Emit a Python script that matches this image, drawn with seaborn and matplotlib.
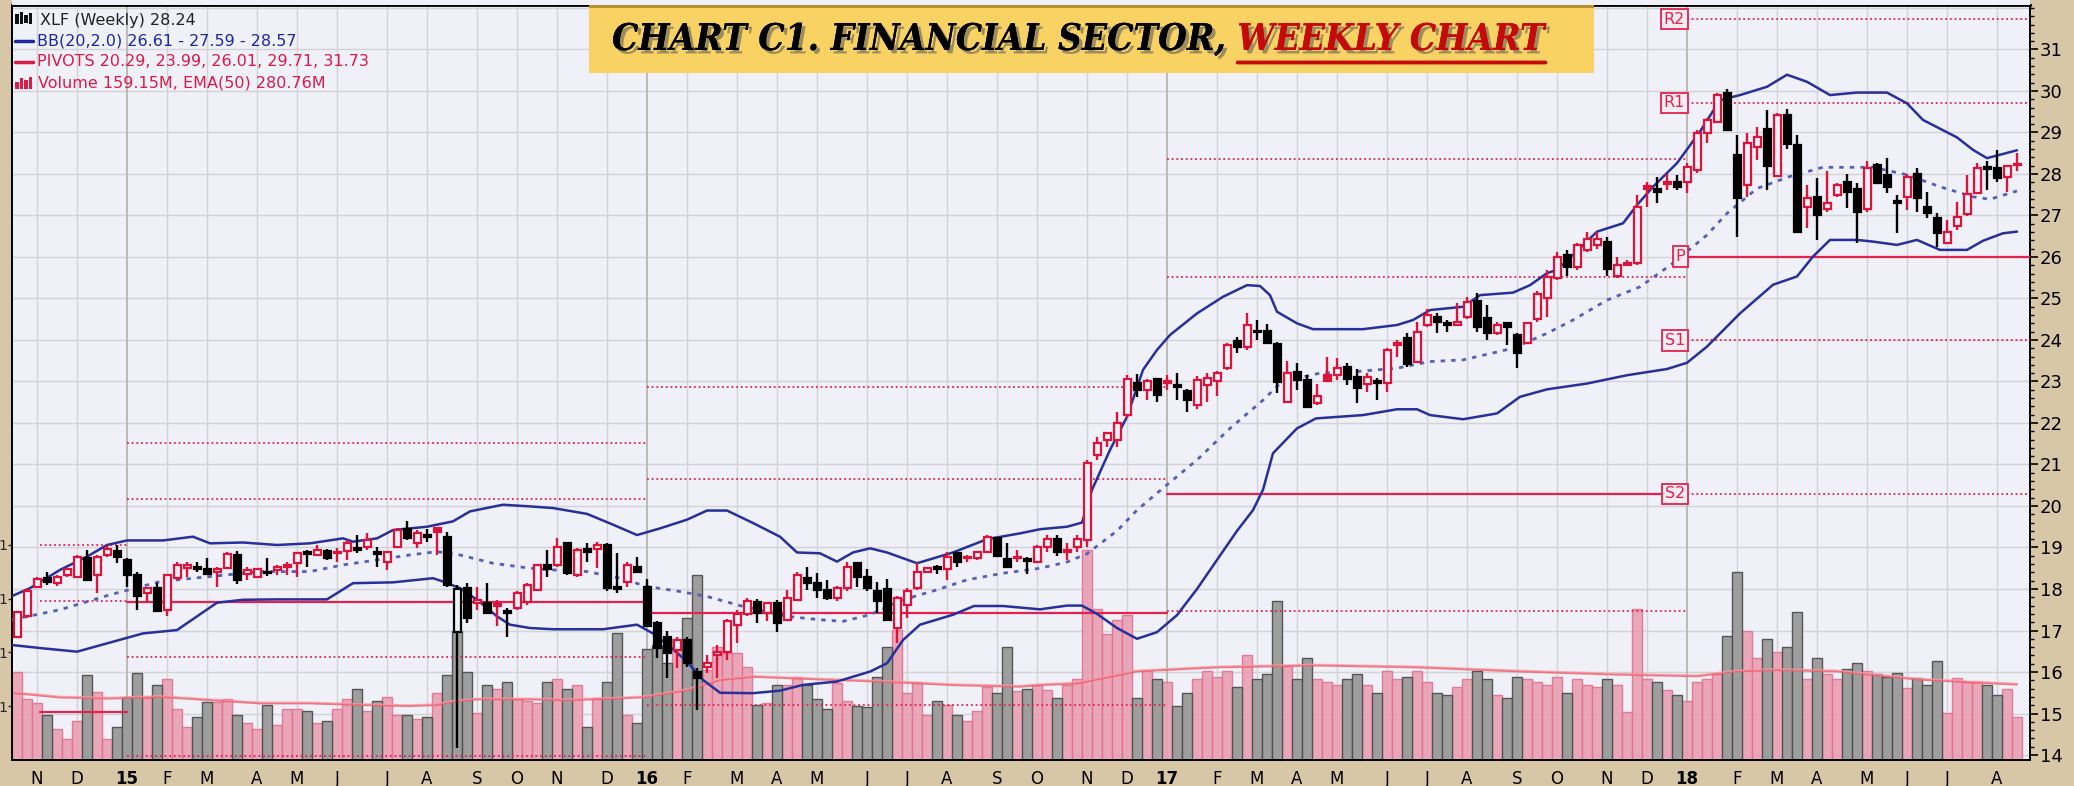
import numpy as np
import matplotlib
matplotlib.use("Agg")
import matplotlib.pyplot as plt
import seaborn as sns
import matplotlib.patheffects as pe
from matplotlib.patches import Rectangle
from matplotlib.lines import Line2D
from matplotlib.transforms import blended_transform_factory
from matplotlib.ticker import MultipleLocator, FixedLocator

# ---------------- weekly XLF candles (week 0 = late Oct 2014) ----------------
opens = [
    16.85, 17.34, 18.06, 18.26, 18.14, 18.34, 18.30, 18.74, 18.34, 18.82,
    18.92, 18.70, 18.34, 17.90, 18.02, 17.50, 18.26, 18.50, 18.52, 18.48,
    18.42, 18.50, 18.82, 18.36, 18.28, 18.42, 18.46, 18.52, 18.62, 18.88,
    18.82, 18.92, 18.86, 18.92, 18.98, 19.02, 18.88, 18.66, 19.02, 19.44,
    19.10, 19.30, 19.46, 19.26, 16.97, 18.02, 17.66, 17.66, 17.60, 17.46,
    17.54, 17.68, 17.98, 18.58, 18.58, 19.10, 18.34, 18.96, 18.96, 19.06,
    18.06, 18.18, 18.52, 18.06, 17.18, 16.85, 16.53, 16.76, 16.01, 16.13,
    16.41, 16.49, 17.13, 17.40, 17.68, 17.43, 17.66, 17.26, 17.74, 18.26,
    18.14, 17.98, 17.78, 18.02, 18.62, 18.30, 17.94, 17.99, 17.05, 17.62,
    18.02, 18.42, 18.52, 18.48, 18.86, 18.74, 18.74, 18.90, 19.22, 18.72,
    18.74, 18.72, 18.64, 19.00, 19.20, 18.90, 19.00, 19.18, 21.23, 21.60,
    21.60, 22.19, 22.97, 22.79, 23.05, 22.96, 22.91, 22.78, 22.43, 22.91,
    23.02, 23.32, 23.98, 23.84, 24.22, 24.22, 23.90, 22.51, 23.24, 23.04,
    22.47, 23.16, 23.16, 23.34, 23.10, 22.95, 23.02, 22.97, 23.88, 24.04,
    23.48, 24.36, 24.56, 24.42, 24.36, 24.56, 24.95, 24.52, 24.16, 24.42,
    24.12, 23.92, 24.50, 25.00, 25.49, 26.05, 25.75, 26.17, 26.29, 26.35,
    25.53, 25.81, 25.85, 27.71, 27.63, 27.76, 27.80, 27.81, 28.10, 28.98,
    29.26, 29.96, 28.46, 27.73, 28.66, 29.08, 27.95, 29.42, 28.70, 27.20,
    27.45, 27.15, 27.49, 27.81, 27.63, 27.15, 28.22, 27.97, 27.35, 27.45,
    28.00, 27.21, 26.93, 26.33, 26.75, 27.04, 27.53, 28.14, 28.14, 27.93,
    28.21,
]
highs = [
    17.47, 18.02, 18.30, 18.40, 18.33, 18.50, 18.82, 18.94, 18.82, 19.06,
    19.06, 18.74, 18.42, 18.06, 18.14, 18.36, 18.64, 18.66, 18.66, 18.74,
    18.54, 18.88, 18.92, 18.54, 18.50, 18.74, 18.58, 18.64, 18.90, 18.94,
    19.06, 18.96, 18.98, 19.17, 19.30, 19.34, 19.02, 18.90, 19.46, 19.65,
    19.42, 19.44, 19.50, 19.38, 18.10, 18.14, 18.06, 18.14, 17.74, 17.54,
    17.94, 18.14, 18.60, 18.94, 19.22, 19.14, 18.98, 19.10, 19.14, 19.10,
    18.86, 18.64, 18.78, 18.24, 17.22, 17.00, 16.85, 16.85, 16.09, 16.41,
    16.65, 17.28, 17.50, 17.78, 17.76, 17.68, 17.74, 17.98, 18.40, 18.54,
    18.38, 18.22, 18.08, 18.64, 18.64, 18.48, 18.18, 18.24, 17.82, 18.02,
    18.62, 18.52, 18.58, 18.90, 18.90, 18.82, 18.90, 19.30, 19.26, 19.12,
    18.94, 18.78, 19.06, 19.30, 19.30, 19.10, 19.30, 21.10, 21.67, 21.79,
    22.27, 23.16, 23.18, 23.05, 23.08, 23.16, 23.21, 22.83, 23.12, 23.20,
    23.26, 23.93, 24.08, 24.66, 24.47, 24.39, 23.94, 23.50, 23.45, 23.16,
    22.95, 23.60, 23.56, 23.45, 23.29, 23.20, 23.08, 23.80, 24.00, 24.16,
    24.44, 24.74, 24.64, 24.48, 24.88, 25.04, 25.14, 24.84, 24.44, 24.44,
    24.16, 24.44, 25.19, 25.69, 26.13, 26.17, 26.33, 26.59, 26.59, 26.49,
    26.01, 25.93, 27.49, 27.81, 27.93, 28.00, 27.97, 28.26, 29.06, 29.34,
    29.94, 30.04, 28.94, 28.98, 29.12, 29.53, 29.48, 29.56, 28.94, 27.73,
    27.90, 28.08, 27.79, 28.01, 27.79, 28.30, 28.26, 28.38, 27.49, 28.00,
    28.14, 27.57, 27.05, 26.89, 27.33, 27.97, 28.26, 28.30, 28.58, 28.22,
    28.50,
]
lows = [
    16.81, 17.30, 18.02, 18.10, 18.07, 18.30, 18.26, 18.20, 17.90, 18.78,
    18.62, 18.06, 17.50, 17.66, 17.45, 17.34, 18.22, 18.30, 18.42, 18.35,
    18.06, 18.48, 18.12, 18.22, 18.26, 18.32, 18.34, 18.34, 18.30, 18.54,
    18.80, 18.70, 18.66, 18.70, 18.86, 18.94, 18.54, 18.46, 19.00, 19.18,
    18.98, 19.14, 18.82, 18.06, 14.16, 17.18, 17.50, 17.40, 17.10, 16.85,
    17.50, 17.62, 17.95, 18.30, 18.54, 18.34, 18.30, 18.64, 18.50, 17.94,
    17.90, 18.06, 18.40, 17.10, 16.33, 15.85, 16.09, 16.13, 15.09, 15.97,
    15.85, 16.30, 16.69, 17.36, 17.18, 17.22, 16.97, 17.24, 17.70, 17.98,
    17.78, 17.74, 17.70, 17.94, 18.06, 17.94, 17.42, 17.24, 16.69, 17.30,
    17.98, 18.38, 18.36, 18.22, 18.54, 18.66, 18.70, 18.88, 18.78, 18.50,
    18.66, 18.36, 18.62, 18.90, 18.80, 18.70, 18.90, 19.00, 21.11, 21.43,
    21.43, 22.11, 22.63, 22.55, 22.51, 22.79, 22.55, 22.27, 22.33, 22.51,
    22.65, 23.28, 23.68, 23.76, 24.00, 23.90, 22.72, 22.47, 22.79, 22.35,
    22.43, 22.99, 23.04, 22.91, 22.47, 22.75, 22.55, 22.75, 23.60, 23.36,
    23.44, 24.32, 24.16, 24.20, 24.34, 24.50, 24.20, 24.00, 24.12, 23.88,
    23.32, 23.90, 24.44, 24.56, 25.45, 25.53, 25.69, 26.13, 26.18, 25.53,
    25.49, 25.78, 25.81, 27.21, 27.29, 27.61, 27.61, 27.53, 28.02, 28.74,
    29.26, 29.06, 26.49, 27.45, 28.34, 27.61, 27.94, 28.59, 26.59, 26.69,
    26.41, 27.09, 27.45, 27.17, 26.33, 27.09, 27.77, 27.53, 26.57, 27.13,
    27.09, 26.93, 26.25, 26.31, 26.65, 26.99, 27.52, 27.61, 27.81, 27.57,
    28.06,
]
closes = [
    17.45, 17.94, 18.24, 18.18, 18.30, 18.48, 18.77, 18.22, 18.77, 18.96,
    18.78, 18.34, 17.82, 18.02, 17.46, 18.34, 18.58, 18.58, 18.47, 18.36,
    18.48, 18.84, 18.22, 18.46, 18.48, 18.38, 18.52, 18.58, 18.86, 18.84,
    18.94, 18.74, 18.90, 19.12, 18.94, 19.18, 18.84, 18.88, 19.42, 19.22,
    19.34, 19.26, 19.38, 18.10, 18.00, 17.30, 17.74, 17.42, 17.64, 17.42,
    17.90, 18.10, 18.58, 18.48, 19.02, 18.38, 18.94, 18.90, 19.06, 18.02,
    18.00, 18.58, 18.42, 17.11, 16.57, 16.45, 16.77, 16.21, 15.85, 16.21,
    16.49, 17.24, 17.40, 17.72, 17.43, 17.66, 17.18, 17.78, 18.34, 18.14,
    17.98, 17.78, 18.02, 18.52, 18.30, 18.02, 17.70, 17.26, 17.78, 17.94,
    18.42, 18.50, 18.48, 18.78, 18.64, 18.78, 18.88, 19.26, 18.80, 18.54,
    18.78, 18.68, 19.00, 19.20, 18.90, 18.95, 19.20, 21.03, 21.51, 21.75,
    21.99, 23.05, 22.79, 23.02, 22.67, 23.02, 22.87, 22.55, 23.04, 23.08,
    23.20, 23.88, 23.84, 24.36, 24.18, 23.92, 22.99, 23.20, 23.04, 22.38,
    22.65, 23.00, 23.32, 23.05, 22.84, 23.10, 22.96, 23.77, 23.92, 23.42,
    24.20, 24.60, 24.44, 24.36, 24.44, 24.92, 24.32, 24.16, 24.36, 24.32,
    23.68, 24.40, 25.11, 25.51, 25.99, 25.75, 26.29, 26.43, 26.43, 25.70,
    25.81, 25.86, 27.21, 27.63, 27.57, 27.80, 27.68, 28.16, 28.99, 29.29,
    29.90, 29.06, 27.41, 28.74, 28.88, 28.19, 29.42, 28.72, 26.61, 27.41,
    27.01, 27.29, 27.73, 27.57, 27.09, 28.14, 27.79, 27.69, 27.31, 27.93,
    27.43, 27.05, 26.57, 26.61, 26.96, 27.52, 28.14, 28.12, 27.90, 28.18,
    28.24,
]
# weekly volume, millions of shares
volume = [
    328, 226, 211, 167, 114, 77, 145, 316, 254, 77,
    122, 233, 322, 229, 279, 300, 188, 122, 159, 217,
    217, 226, 167, 139, 114, 205, 130, 188, 188, 183,
    139, 145, 188, 226, 263, 183, 219, 233, 167, 167,
    151, 159, 250, 316, 480, 328, 174, 279, 263, 291,
    226, 220, 211, 291, 300, 263, 279, 122, 229, 291,
    471, 167, 137, 412, 428, 360, 449, 527, 688, 335,
    422, 397, 397, 347, 205, 213, 279, 279, 310, 279,
    226, 188, 285, 221, 201, 196, 310, 422, 484, 250,
    291, 167, 219, 205, 167, 146, 183, 270, 250, 422,
    258, 263, 279, 260, 230, 280, 300, 780, 560, 470,
    520, 540, 230, 330, 300, 290, 200, 250, 300, 330,
    310, 330, 270, 390, 300, 320, 590, 350, 300, 380,
    300, 290, 280, 300, 320, 280, 250, 330, 300, 310,
    330, 290, 250, 240, 270, 300, 330, 300, 240, 230,
    310, 300, 290, 280, 310, 250, 300, 280, 270, 300,
    280, 180, 560, 300, 290, 260, 240, 220, 290, 300,
    320, 460, 700, 480, 380, 450, 400, 420, 550, 300,
    380, 320, 300, 340, 360, 330, 320, 310, 324, 268,
    305, 279, 368, 175, 305, 290, 290, 279, 242, 264,
    159.15,
]

# Bollinger Bands (20, 2.0) sampled along the week axis
bb_up_wk = [-0.5, 1.3, 4.3, 7, 9, 11, 14.6, 17.6, 19.3, 22.6, 26, 29.3, 32.6, 33.6, 36, 37.6,
            41, 43.6, 45.3, 48.6, 51.3, 53.6, 57, 59.6, 62, 64.3, 67, 69, 71, 73.6, 76.3, 78,
            80.3, 82, 83.6, 85.3, 87, 90, 93.6, 97, 100.3, 102.3, 105, 106.5, 107.5, 109.3,
            111, 112.6, 114, 115.3, 118, 120.6, 123, 124.3, 125.3, 126, 128, 129.6, 134.6,
            138, 139.6, 141.3, 144.6, 146.3, 149.6, 151.3, 153, 154, 155.6, 158, 160.6, 162,
            163.6, 166, 168.3, 170.3, 172.3, 175, 177, 179, 181.3, 184, 187, 189, 190.6, 194,
            195.6, 197, 200]
bb_up = [17.83, 18.02, 18.46, 18.78, 19.06, 19.17, 19.17, 19.26, 19.10, 19.12, 19.06, 19.10,
         19.22, 19.14, 19.22, 19.42, 19.50, 19.63, 19.87, 20.03, 19.99, 19.95, 19.81, 19.55,
         19.30, 19.46, 19.67, 19.89, 19.89, 19.59, 19.26, 18.88, 18.86, 18.66, 18.88, 18.98,
         18.88, 18.62, 18.88, 19.20, 19.34, 19.44, 19.50, 19.60, 20.39, 21.35, 22.15, 23.28,
         23.76, 24.12, 24.64, 25.04, 25.32, 25.30, 25.08, 24.68, 24.40, 24.26, 24.26, 24.36,
         24.48, 24.72, 24.80, 25.08, 25.14, 25.32, 25.61, 25.69, 26.05, 26.61, 26.81, 27.25,
         27.69, 28.26, 29.02, 29.78, 29.90, 30.10, 30.39, 30.22, 29.90, 29.96, 29.96, 29.70,
         29.30, 28.88, 28.58, 28.38, 28.57]
bb_mid_wk = [-0.5, 4.3, 9.3, 14.3, 19.3, 24.3, 29.3, 32.6, 36, 39.3, 42, 44.3, 47.6, 51.3,
             53.6, 57, 60.3, 63, 66.3, 69, 72.6, 77, 80.3, 82.6, 85.3, 88.6, 92, 95, 98.6,
             102.3, 105, 107, 110, 112, 114.6, 118, 121.3, 124.6, 126.3, 128, 130.3, 134, 138,
             141.3, 144.6, 149.6, 153, 155.6, 159, 162.3, 165.6, 169, 171, 174, 177.3, 180.6,
             185.6, 189, 192.3, 195.6, 197.3, 200]
bb_mid = [17.26, 17.50, 17.86, 18.18, 18.30, 18.42, 18.42, 18.58, 18.70, 18.82, 18.90, 18.82,
          18.62, 18.50, 18.46, 18.42, 18.26, 18.06, 17.94, 17.82, 17.58, 17.34, 17.26, 17.22,
          17.38, 17.74, 17.98, 18.22, 18.38, 18.50, 18.65, 18.85, 19.40, 19.90, 20.43, 21.11,
          21.87, 22.55, 22.95, 23.08, 23.20, 23.24, 23.32, 23.48, 23.52, 23.80, 24.16, 24.48,
          24.96, 25.28, 25.85, 26.53, 27.05, 27.65, 27.94, 28.16, 28.16, 27.98, 27.69, 27.45,
          27.39, 27.59]
bb_lo_wk = [-0.5, 2.6, 6, 9.3, 12.6, 16, 18, 20, 22.6, 26, 31, 33.6, 37.6, 41.6, 42.6, 44.3,
            46, 48, 49.3, 51.3, 53.6, 58.6, 62, 63.6, 65.3, 67, 68.6, 70.3, 73.6, 76.3, 78.6,
            82, 85.3, 87, 88.6, 90.3, 93.6, 95.7, 98.6, 102.3, 105, 106.5, 108, 110, 112, 114,
            116, 118, 120, 122, 123.6, 124.6, 125.6, 128, 129.9, 134.6, 138, 140, 141.3, 144.6,
            148, 150.3, 153, 157, 161, 165, 167, 169, 172.3, 175.6, 178, 179.6, 181.3, 184,
            185.6, 188, 190, 192.3, 195, 196.6, 198.6, 200]
bb_lo = [16.65, 16.57, 16.49, 16.71, 16.93, 17.01, 17.34, 17.67, 17.74, 17.75, 17.75, 18.14,
         18.16, 18.26, 18.18, 18.02, 17.74, 17.34, 17.14, 17.06, 17.03, 17.03, 17.14, 16.93,
         16.61, 16.25, 15.81, 15.50, 15.49, 15.55, 15.69, 15.77, 16.01, 16.21, 16.77, 17.14,
         17.38, 17.59, 17.59, 17.51, 17.60, 17.60, 17.40, 17.06, 16.80, 16.96, 17.37, 18.00,
         18.70, 19.40, 19.90, 20.39, 21.27, 21.87, 22.11, 22.19, 22.33, 22.33, 22.19, 22.09,
         22.23, 22.63, 22.81, 22.95, 23.15, 23.30, 23.45, 23.84, 24.64, 25.33, 25.53, 26.01,
         26.41, 26.41, 26.37, 26.29, 26.41, 26.17, 26.17, 26.39, 26.57, 26.61]

# 50-week EMA of volume (millions)
ema_wk = [-0.5, 4.3, 9.3, 14.3, 19.3, 24.3, 29.3, 34.3, 39.3, 42, 43.6, 46, 51.3, 55, 60.3,
          63, 67, 70.3, 73.6, 80.3, 87, 93.6, 100.3, 102.3, 106, 108, 112, 120, 130, 140,
          150, 160, 168, 172, 176, 182, 190, 195, 200]
ema_vol = [250, 233, 229, 235, 223, 211, 211, 205, 201, 205, 217, 226, 226, 223, 229, 235,
           260, 298, 310, 300, 291, 279, 273, 279, 285, 300, 330, 345, 352, 345, 330, 318,
           312, 330, 335, 330, 300, 290, 281]

# yearly pivot levels: (first week, last week, [levels], index of pivot P)
piv_start = [2.3, 11, 63, 115, 167]
piv_end = [11, 63, 115, 167, 201.3]
piv_levels = [
    [19.06, 17.71, 15.04],
    [21.52, 20.17, 17.69, 16.36, 13.98],
    [22.87, 20.65, 17.42, 15.20],
    [28.36, 25.52, 20.30, 17.47],
    [31.73, 29.71, 26.01, 23.99, 20.29],
]
piv_p_index = [2, 2, 2, 2, 2]
piv_2018_names = ["R2", "R1", "P", "S1", "S2"]

# month axis
month_wk = [2, 6, 11, 15, 19, 24, 28, 32, 37, 41, 46, 50, 54, 59, 63, 67, 72, 76, 80, 85, 89, 93,
            98, 102, 107, 111, 115, 120, 124, 128, 132, 137, 141, 145, 150, 154, 159, 163, 167,
            172, 176, 180, 185, 189, 193, 198]
month_lbl = ["N", "D", "15", "F", "M", "A", "M", "J", "J", "A", "S", "O", "N", "D", "16", "F",
             "M", "A", "M", "J", "J", "A", "S", "O", "N", "D", "17", "F", "M", "A", "M", "J",
             "J", "A", "S", "O", "N", "D", "18", "F", "M", "A", "M", "J", "J", "A"]
price_ticks = list(range(14, 32))
# left volume scale: only the last glyph of each label shows in the narrow margin
vol_ticks = [200, 400, 600, 800]
vol_tick_lbl = ["1", "1", "1", "1"]

# ---------------- styling ----------------
W, H, DPI = 2074, 786, 100
BEIGE = "#D8C7A7"
PLOT_BG = "#EFF0F8"
GRID = "#D3D3D6"
GRID_YEAR = "#B9B6AE"
RED = "#DC143C"
PIV = "#E3234E"
NAVY = "#27309A"
MIDBLUE = "#5560B8"

sns.set_theme(style="white")
plt.rcParams["font.family"] = ["DejaVu Sans"]

fig = plt.figure(figsize=(W / DPI, H / DPI), dpi=DPI, facecolor=BEIGE)
L, R, T, B = 12, 2030, 5, 760
axv = fig.add_axes([L / W, 1 - B / H, (R - L) / W, (B - T) / H])
axv.set_facecolor(PLOT_BG)
axp = axv.twinx()

n = len(closes)
wk = np.arange(n)
o = np.array(opens); h = np.array(highs); lo = np.array(lows); c = np.array(closes)
v = np.array(volume)
prev = np.concatenate([[c[0] - 1], c[:-1]])
up_day = c >= prev

XMIN, XMAX = -0.5, 201.3
YMIN, YMAX = 13.88, 32.07
axv.set_xlim(XMIN, XMAX)
axp.set_ylim(YMIN, YMAX)
axv.set_ylim(0, (B - T) * 3.72)

# grid beneath everything
hgrid = blended_transform_factory(axv.transAxes, axp.transData)
for p in price_ticks + [32]:
    axv.plot([0, 1], [p, p], transform=hgrid, color=GRID, lw=1.0, zorder=0.5)
for m, lab in zip(month_wk, month_lbl):
    yr = lab.isdigit()
    axv.axvline(m, color=GRID_YEAR if yr else GRID, lw=1.3 if yr else 1.0, zorder=0.5)

# volume bars
axv.bar(wk[up_day], v[up_day], width=1.0, color="#EA9FB2", edgecolor="#E2718E",
        linewidth=1.0, alpha=0.9, zorder=1)
axv.bar(wk[~up_day], v[~up_day], width=1.0, color="#9A9A9A", edgecolor="#4F4F4F",
        linewidth=1.0, alpha=0.95, zorder=1)
sns.lineplot(x=ema_wk, y=ema_vol, ax=axv, color="#F0606E", lw=1.6, alpha=0.85, zorder=2)
axv.plot(ema_wk, np.array(ema_vol) + 4, color="#F7A0A8", lw=1.0, alpha=0.7, zorder=2)

# pivot lines
for s, e, lv, pi in zip(piv_start, piv_end, piv_levels, piv_p_index):
    for k, val in enumerate(lv):
        if k == pi:
            axp.plot([s, e], [val, val], color=PIV, lw=1.6, zorder=3)
        else:
            axp.plot([s, e], [val, val], color=PIV, lw=1.3, ls=(0, (1, 1.6)), zorder=3)
for name, val in zip(piv_2018_names, piv_levels[-1]):
    axp.text(166.8, val, name, ha="right", va="center", fontsize=11.5, color=PIV,
             zorder=6, bbox=dict(boxstyle="square,pad=0.18", fc="#F6ECF1", ec=PIV, lw=1.3))

# Bollinger Bands
sns.lineplot(x=bb_up_wk, y=bb_up, ax=axp, color=NAVY, lw=1.8, zorder=4)
sns.lineplot(x=bb_lo_wk, y=bb_lo, ax=axp, color=NAVY, lw=1.8, zorder=4)
axp.plot(bb_mid_wk, bb_mid, color=MIDBLUE, lw=2.0, ls=(0, (1.6, 2.2)), zorder=4)

# candles
cols = np.where(up_day, RED, "black")
axp.vlines(wk, lo, h, colors=cols, lw=1.7, zorder=5)
body_lo = np.minimum(o, c)
body_h = np.maximum(np.abs(c - o), 0.035)
filled = c < o
faces = [col if f else PLOT_BG for col, f in zip(cols, filled)]
axp.bar(wk, body_h, bottom=body_lo, width=0.7, color=faces, edgecolor=cols,
        linewidth=1.6, zorder=5.5)

# axes, ticks, labels
for ax in (axv, axp):
    for sp in ax.spines.values():
        sp.set_color("black"); sp.set_linewidth(1.3)
axp.spines["top"].set_linewidth(2.0)
axp.yaxis.set_major_locator(FixedLocator(price_ticks))
axp.yaxis.set_minor_locator(MultipleLocator(0.2))
axp.tick_params(axis="y", which="major", direction="out", length=6, width=1.2,
                labelsize=13, colors="black", pad=1)
axp.tick_params(axis="y", which="minor", direction="out", length=3, width=1.0, colors="black")
axp.set_ylabel("")

axv.yaxis.set_major_locator(FixedLocator(vol_ticks))
axv.set_yticklabels(vol_tick_lbl)
axv.tick_params(axis="y", which="major", direction="out", length=3, width=1.0,
                labelsize=10, pad=0.5)
axv.set_ylabel("")
axv.xaxis.set_major_locator(FixedLocator(month_wk))
axv.xaxis.set_minor_locator(FixedLocator(wk))
axv.set_xticklabels(month_lbl)
axv.tick_params(axis="x", which="major", direction="out", length=5, width=1.2,
                labelsize=12, pad=2, colors="black")
axv.tick_params(axis="x", which="minor", direction="out", length=3, width=0.9, colors="black")
for t in axv.get_xticklabels():
    if t.get_text().isdigit():
        t.set_fontweight("bold")

# strip above the frame
fig.patches.append(Rectangle((L / W, 1 - T / H), (R - L) / W, T / H, transform=fig.transFigure,
                             fc=PLOT_BG, ec="none", zorder=0))

# legend block
def fy(px):
    return 1 - px / H

fig.text(40 / W, fy(20), "XLF (Weekly) 28.24", color="#222222", fontsize=11.5, va="center")
fig.text(37 / W, fy(41), "BB(20,2.0) 26.61 - 27.59 - 28.57", color="#1E2A9C", fontsize=11.5,
         va="center")
fig.text(37 / W, fy(62), "PIVOTS 20.29, 23.99, 26.01, 29.71, 31.73", color="#D91C48",
         fontsize=11.5, va="center")
fig.text(38 / W, fy(83), "Volume 159.15M, EMA(50) 280.76M", color="#D91C48", fontsize=11.5,
         va="center")
fig.lines.append(Line2D([15 / W, 33 / W], [fy(41), fy(41)], transform=fig.transFigure,
                        color="#1E2A9C", lw=2.5))
fig.lines.append(Line2D([15 / W, 33 / W], [fy(62), fy(62)], transform=fig.transFigure,
                        color="#D91C48", lw=2.5))
for j, hh in enumerate([7, 11, 9, 12]):
    fig.patches.append(Rectangle(((15 + 4.5 * j) / W, fy(89)), 3.5 / W, hh / H,
                                 transform=fig.transFigure, fc="#D91C48", ec="none"))
for j, (y0, hh) in enumerate([(14, 10), (12, 12), (15, 8), (13, 11)]):
    fig.patches.append(Rectangle(((15 + 4.5 * j) / W, fy(y0 + hh)), 3.5 / W, hh / H,
                                 transform=fig.transFigure, fc="#111111", ec="none"))

# title banner
fig.patches.append(Rectangle((589 / W, fy(73)), 1005 / W, 68 / H, transform=fig.transFigure,
                             fc="#F8D363", ec="none", zorder=1))
fig.patches.append(Rectangle((589 / W, fy(8)), 1005 / W, 3 / H, transform=fig.transFigure,
                             fc="#B8902C", ec="none", zorder=1))
shadow = [pe.withSimplePatchShadow(offset=(2.5, -2.5), shadow_rgbFace="#555555", alpha=0.55),
          pe.Normal()]
TITLE_FS = 34
title_kw = dict(fontsize=TITLE_FS, fontweight="bold", fontstyle="italic",
                fontstretch="condensed",
                family=["Liberation Sans Narrow", "DejaVu Serif"], va="center", zorder=2)
t1 = fig.text(612 / W, fy(40), "CHART C1. FINANCIAL SECTOR, ", color="black", **title_kw)
t1.set_path_effects(shadow)
fig.canvas.draw()
rend = fig.canvas.get_renderer()
bb1 = t1.get_window_extent(rend)
t2 = fig.text(bb1.x1 / W, fy(40), "WEEKLY CHART", color="#C40A0A", **title_kw)
t2.set_path_effects(shadow)
fig.canvas.draw()
bb2 = t2.get_window_extent(rend)
total = bb2.x1 - bb1.x0
scale = (1545 - 612) / total
if abs(scale - 1) > 0.02:
    for t in (t1, t2):
        t.set_fontsize(min(TITLE_FS * scale, 40))
    fig.canvas.draw()
    bb1 = t1.get_window_extent(rend)
    t2.set_x(bb1.x1 / W)
    fig.canvas.draw()
    bb2 = t2.get_window_extent(rend)
fig.lines.append(Line2D([bb2.x0 / W, bb2.x1 / W], [fy(62), fy(62)], transform=fig.transFigure,
                        color="#C40A0A", lw=2.5, zorder=3,
                        path_effects=[pe.withSimplePatchShadow(offset=(1.5, -1.5),
                                                               shadow_rgbFace="#555555",
                                                               alpha=0.5), pe.Normal()]))

fig.savefig("out.png", dpi=DPI, facecolor=BEIGE)
